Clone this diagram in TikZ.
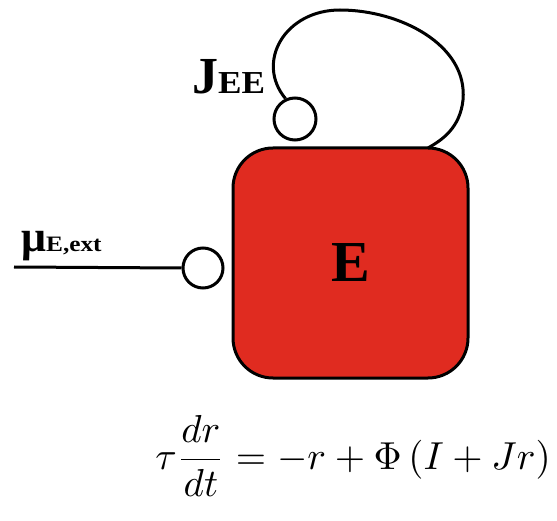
\documentclass[tikz,border=0pt]{standalone}
\usepackage{fontspec}
\setmainfont{Liberation Serif}
\usepackage{amsmath}
\begin{document}
\begin{tikzpicture}[x=1pt,y=-1pt,
  wire/.style={line width=3pt,black},
  port/.style={circle,draw=black,line width=3pt,fill=white,inner sep=0pt},
  popbox/.style={draw=black,line width=3pt,fill=boxred,rounded corners=40pt,
     minimum width=235pt,minimum height=230pt,inner sep=0pt},
  lbl/.style={inner sep=0pt,font=\bfseries}]
\definecolor{boxred}{HTML}{E02B20}
\useasboundingbox (0,0) rectangle (557,521);
\node[popbox] (E) at (350.5,263) {\fontsize{58}{60}\selectfont\bfseries E};
\node[port,minimum size=42pt] (jc) at (295,119) {};
\node[port,minimum size=40pt] (mc) at (203,268) {};
\coordinate (m0) at (14,267);
\coordinate (lend) at (428,148);
\draw[wire] (m0) -- (mc.west);
\draw[wire] (jc.115) .. controls (255,62) and (285,10) .. (340,10)
   .. controls (400,10) and (468,45) .. (463,100)
   .. controls (460,128) and (442,140) .. (lend);
\node[lbl,anchor=base west] (jl) at (192,94) {\fontsize{52}{54}\selectfont J\scalebox{1.1}[1]{\fontsize{32}{34}\selectfont EE}};
\node[lbl,anchor=base west] (ml) at (21,252) {\fontsize{44}{46}\selectfont μ\scalebox{1.15}[1]{\fontsize{22}{24}\selectfont E,ext}};
\node[inner sep=0pt,scale=3.9] (eq) at (353,456) {$\displaystyle \tau\frac{dr}{dt}=-r+\Phi\left(I+Jr\right)$};
\end{tikzpicture}
\end{document}
